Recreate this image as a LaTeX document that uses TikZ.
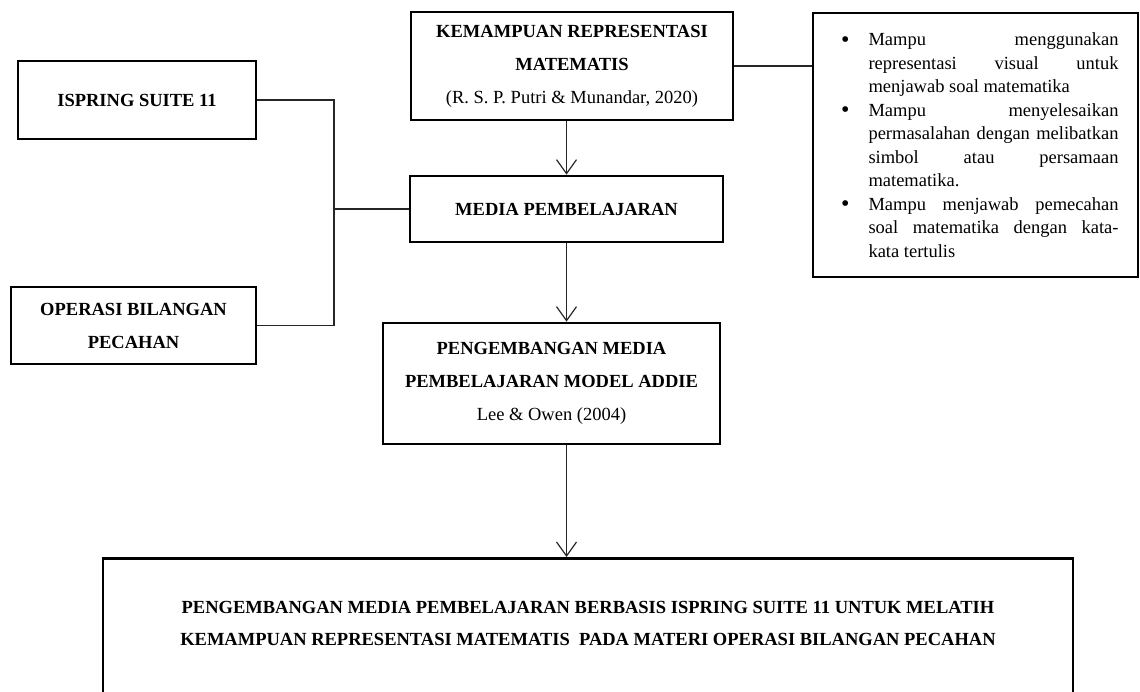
\documentclass[tikz,border=0pt]{standalone}
\usepackage{fontspec}
\setmainfont{Liberation Serif}
\usetikzlibrary{arrows.meta}

\begin{document}
\begin{tikzpicture}[x=1pt, y=-1pt,
		frame/.style={draw, line width=2.7pt, inner sep=0pt},
		box/.style={frame, align=center, font=\fontsize{18.5}{33}\selectfont\bfseries},
		line/.style={draw=black!85, line width=1.2pt},
		arrow/.style={line, -{Straight Barb[length=14pt, width=20pt, line width=1.2pt]}}]
			\useasboundingbox (0,0) rectangle (1140,691);
			% boxes
			\node [box, minimum width=238pt, minimum height=78pt] (isp) at (137,100) {ISPRING SUITE 11};
			\node [box, minimum width=245pt, minimum height=77pt] (ops) at (133.5,325.5) {OPERASI BILANGAN\\PECAHAN};
			\node [box, minimum width=322pt, minimum height=108pt] (kem) at (572,66) {KEMAMPUAN REPRESENTASI\\MATEMATIS\\{\mdseries (R. S. P. Putri \& Munandar, 2020)}};
			\node [box, minimum width=313pt, minimum height=66pt] (med) at (566.5,209) {MEDIA PEMBELAJARAN};
			\node [box, minimum width=337pt, minimum height=121pt] (add) at (551.5,383.5) {PENGEMBANGAN MEDIA\\PEMBELAJARAN MODEL ADDIE\\{\mdseries Lee \& Owen (2004)}};
			\node [frame, minimum width=325pt, minimum height=264pt, font=\fontsize{18.5}{23.5}\selectfont] (ind) at (975.5,145) {%
				\begin{minipage}{286pt}
					\begin{list}{\raisebox{-1.5pt}{\scalebox{1.3}{\textbullet}}}{\setlength{\leftmargin}{36pt}\setlength{\labelsep}{19pt}\setlength{\labelwidth}{17pt}%
						\setlength{\itemsep}{0pt}\setlength{\parsep}{0pt}\setlength{\topsep}{0pt}}
						\item Mampu menggunakan\linebreak representasi visual untuk\linebreak menjawab soal matematika
						\item Mampu menyelesaikan\linebreak permasalahan dengan melibatkan\linebreak simbol atau persamaan\linebreak matematika.
						\item Mampu menjawab pemecahan\linebreak soal matematika dengan kata-\linebreak kata tertulis
					\end{list}
				\end{minipage}};
			\node [frame, anchor=north, minimum width=970pt, minimum height=180pt] (bot) at (588,557) {};
			\node [align=center, font=\fontsize{18.5}{32}\selectfont\bfseries] (judul) at (588,623) {PENGEMBANGAN MEDIA PEMBELAJARAN BERBASIS ISPRING SUITE 11 UNTUK MELATIH\\KEMAMPUAN REPRESENTASI MATEMATIS\ \ PADA MATERI OPERASI BILANGAN PECAHAN};
			% connectors
			\coordinate (jn) at (334,209);
			\draw [line] (isp.east) -| (jn) |- (ops.east);
			\draw [line] (jn) -- (med.west);
			\draw [line] (kem.east) -- (ind.west |- kem.east);
			\draw [arrow] (kem.south -| med) -- (med.north);
			\draw [arrow] (med.south) -- (add.north -| med);
			\draw [arrow] (add.south -| med) -- (bot.north -| med);
		\end{tikzpicture}
\end{document}
